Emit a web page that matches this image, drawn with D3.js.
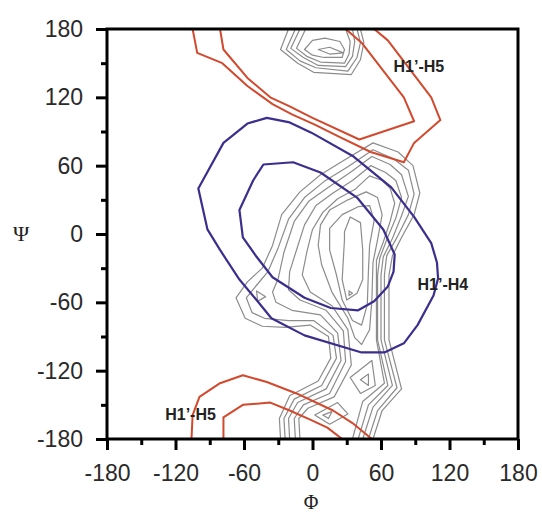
<!DOCTYPE html>
<html>
<head>
<meta charset="utf-8">
<script src="https://cdn.jsdelivr.net/npm/d3@7"></script>
<style>
  body { margin: 0; background: #fff; }
</style>
</head>
<body>
<div id="chart"></div>
<script>
// tick values
var majorTicks = [-180, -120, -60, 0, 60, 120, 180];
var minorTicks = [-150, -90, -30, 30, 90, 150];

// H1'-H5 contours (red), [phi, psi]
var redOuterTop = [[-105,180],[-101,159],[-79,150],[-57,130],[-35,114],[-18,105],[2,96],[24,85],[51,72],[80,63],[89,80],[112,100],[104,120],[66,170],[54,180]];
var redInnerTop = [[-81,180],[-78,162],[-57,137],[-37,120],[-20,112],[0,102],[41,83],[89,99],[80,120],[43,168],[29,180]];
var redOuterBottom = [[-106,-180],[-105,-159],[-99,-143],[-81,-131],[-61,-124],[-40,-130],[-14,-140],[18,-155],[35,-166],[52,-180]];
var redInnerBottom = [[-78,-180],[-78,-161],[-61,-150],[-37,-148],[-20,-155],[-2,-163],[13,-170],[26,-180]];

// H1'-H4 contours (blue), closed
var blueOuter = [[-57,97],[-40,102],[-20,98],[-1,89],[36,68],[69,41],[89,15],[104,-8],[109,-25],[110,-39],[106,-54],[92,-80],[80,-96],[63,-104],[43,-104],[-7,-89],[-36,-74],[-49,-58],[-64,-40],[-81,-14],[-92,4],[-100,40],[-78,80]];
var blueInner = [[-43,61],[-17,63],[7,54],[39,32],[62,4],[72,-18],[71,-33],[66,-46],[54,-59],[40,-67],[16,-65],[-7,-56],[-35,-38],[-49,-20],[-61,-3],[-64,21],[-52,47]];

// gray density contours, top edge (open at the border)
var grayTopOpen = [
  [[-21,180],[-28,162],[-13,150],[1,142],[34,140],[42,153],[45,168],[42,180]],
  [[-15,180],[-23,162],[-11,152],[3,146],[31,143],[39,155],[42,168],[39,180]],
  [[-11,180],[-19,163],[-8,155],[5,148],[29,147],[35,156],[37,169],[35,180]],
  [[-6,180],[-14,163],[-5,156],[7,151],[28,150],[32,158],[33,169],[29,180]]
];
var grayTopClosed = [
  [[0,170],[-7,162],[0,157],[10,155],[26,155],[28,162],[24,169],[11,172]],
  [[5,162],[15,164],[27,159],[15,158]]
];

// gray main band, bottom border to bottom border
var grayBand = [
  [[-28,-180],[-29,-162],[-20,-142],[5,-129],[16,-109],[14,-90],[-2,-80],[-24,-82],[-44,-81],[-59,-74],[-67,-56],[-57,-42],[-44,-30],[-35,-10],[-27,17],[-11,37],[7,52],[28,65],[53,80],[75,72],[88,60],[94,36],[89,17],[78,-3],[70,-19],[67,-36],[67,-93],[78,-136],[61,-155],[53,-180]],
  [[-24,-180],[-25,-162],[-16,-145],[8,-133],[21,-109],[18,-89],[1,-76],[-21,-76],[-42,-74],[-53,-69],[-58,-56],[-49,-45],[-39,-33],[-30,-12],[-21,13],[-7,32],[10,46],[31,59],[53,74],[71,66],[84,56],[89,35],[84,17],[74,-3],[65,-19],[63,-36],[63,-93],[74,-135],[57,-155],[49,-180]],
  [[-20,-180],[-21,-162],[-13,-148],[12,-136],[25,-111],[22,-87],[7,-71],[-18,-67],[-32,-60],[-35,-51],[-30,-39],[-25,-16],[-16,11],[-3,29],[14,41],[33,54],[52,68],[68,61],[78,52],[84,33],[78,16],[70,-4],[62,-20],[60,-36],[60,-93],[70,-133],[53,-152],[44,-180]],
  [[-15,-180],[-16,-162],[-8,-150],[15,-140],[29,-112],[27,-85],[12,-67],[-11,-58],[-21,-49],[-20,-33],[-14,-14],[-7,8],[3,25],[18,36],[35,47],[51,60],[64,54],[73,47],[78,32],[73,14],[65,-5],[59,-21],[57,-36],[57,-93],[66,-133],[49,-150],[40,-180]],
  [[-11,-180],[-12,-162],[-4,-153],[19,-143],[34,-115],[31,-84],[17,-63],[-2,-51],[-9,-36],[-5,-16],[0,4],[9,19],[22,31],[37,39],[50,51],[61,47],[68,40],[72,27],[68,11],[62,-7],[56,-23],[56,-36],[56,-93],[63,-131],[44,-147],[35,-180]]
];

// gray closed contours (core and small local peaks)
var grayCore = [
  [[7,8],[15,21],[31,30],[47,37],[57,32],[61,17],[57,-5],[53,-25],[52,-58],[50,-84],[43,-97],[37,-91],[31,-74],[17,-51],[8,-27],[5,-10]],
  [[15,5],[26,17],[40,24],[50,25],[54,12],[50,-10],[49,-32],[48,-62],[43,-80],[35,-76],[26,-58],[21,-36],[15,-14]],
  [[28,2],[33,15],[42,10],[44,-14],[44,-40],[39,-52],[30,-58],[26,-40],[28,-5]],
  [[32,-50],[35,-52],[32,-54]],
  [[-49,-50],[-41,-55],[-48,-59]],
  [[33,-126],[52,-111],[55,-133],[42,-140]],
  [[42,-128],[49,-123],[49,-133]],
  [[2,-159],[22,-148],[31,-158],[15,-167]],
  [[9,-159],[17,-156],[14,-162]]
];

// text labels [phi, psi, text]
var contourLabels = [
  [71, 142, "H1\u2019-H5"],
  [92, -49, "H1\u2019-H4"],
  [-129, -163, "H1\u2019-H5"]
];

var svgWidth = 542;
var svgHeight = 515;
var margin = { top: 29, right: 24, bottom: 76, left: 107 };
var width = svgWidth - margin.left - margin.right;
var height = svgHeight - margin.top - margin.bottom;

var svg = d3.select("#chart")
  .append("svg")
  .attr("width", svgWidth)
  .attr("height", svgHeight);

var chartGroup = svg.append("g")
  .attr("transform", `translate(${margin.left}, ${margin.top})`);

var x = d3.scaleLinear().domain([-180, 180]).range([0, width]);
var y = d3.scaleLinear().domain([-180, 180]).range([height, 0]);

svg.append("defs").append("clipPath").attr("id", "plot-clip")
  .append("rect").attr("width", width).attr("height", height);

var plot = chartGroup.append("g").attr("clip-path", "url(#plot-clip)");

var openLine = d3.line().x(d => x(d[0])).y(d => y(d[1]));
var closedLine = d3.line().x(d => x(d[0])).y(d => y(d[1])).curve(d3.curveLinearClosed);

function drawPaths(data, gen, color, w) {
  plot.append("g").selectAll("path")
    .data(data)
    .enter()
    .append("path")
    .attr("d", gen)
    .attr("fill", "none")
    .attr("stroke", color)
    .attr("stroke-width", w)
    .attr("stroke-linejoin", "round");
}

var grayColor = "#8c8c8c";
drawPaths(grayTopOpen, openLine, grayColor, 1.2);
drawPaths(grayTopClosed, closedLine, grayColor, 1.2);
drawPaths(grayBand, openLine, grayColor, 1.2);
drawPaths(grayCore, closedLine, grayColor, 1.2);

drawPaths([blueOuter, blueInner], closedLine, "#3b2f8e", 2.2);
drawPaths([redOuterTop, redInnerTop, redOuterBottom, redInnerBottom], openLine, "#d2492d", 2);

// labels
chartGroup.append("g").selectAll("text")
  .data(contourLabels)
  .enter()
  .append("text")
  .attr("x", d => x(d[0]))
  .attr("y", d => y(d[1]))
  .attr("font-family", "Liberation Sans, Arial, sans-serif")
  .attr("font-weight", "bold")
  .attr("font-size", 16)
  .attr("fill", "#222")
  .text(d => d[2]);

// axes
function styleAxis(g, fontSize) {
  g.select(".domain").remove();
  g.selectAll("line").attr("stroke", "#000").attr("stroke-width", 3);
  g.selectAll("text")
    .attr("font-family", "Liberation Sans, Arial, sans-serif")
    .attr("font-size", fontSize)
    .attr("fill", "#2a2a2a");
}

chartGroup.append("g")
  .attr("transform", `translate(0, ${height})`)
  .call(d3.axisBottom(x).tickValues(majorTicks).tickSize(11).tickPadding(15).tickFormat(d => String(d)))
  .call(g => styleAxis(g, 23));
chartGroup.append("g")
  .attr("transform", `translate(0, ${height})`)
  .call(d3.axisBottom(x).tickValues(minorTicks).tickSize(6).tickFormat(""))
  .call(g => styleAxis(g, 23));

chartGroup.append("g")
  .call(d3.axisLeft(y).tickValues(majorTicks).tickSize(11).tickPadding(13).tickFormat(d => String(d)))
  .call(g => styleAxis(g, 23));
chartGroup.append("g")
  .call(d3.axisLeft(y).tickValues(minorTicks).tickSize(6).tickFormat(""))
  .call(g => styleAxis(g, 23));

// frame
chartGroup.append("rect")
  .attr("width", width)
  .attr("height", height)
  .attr("fill", "none")
  .attr("stroke", "#000")
  .attr("stroke-width", 3);

// axis titles
svg.append("text")
  .attr("x", 21)
  .attr("y", 241)
  .attr("text-anchor", "middle")
  .attr("font-family", "Liberation Serif, Times New Roman, serif")
  .attr("font-size", 22)
  .attr("fill", "#222")
  .text("\u03A8");

svg.append("text")
  .attr("x", 311)
  .attr("y", 509)
  .attr("text-anchor", "middle")
  .attr("font-family", "Liberation Serif, Times New Roman, serif")
  .attr("font-size", 20)
  .attr("fill", "#222")
  .text("\u03A6");
</script>
</body>
</html>
